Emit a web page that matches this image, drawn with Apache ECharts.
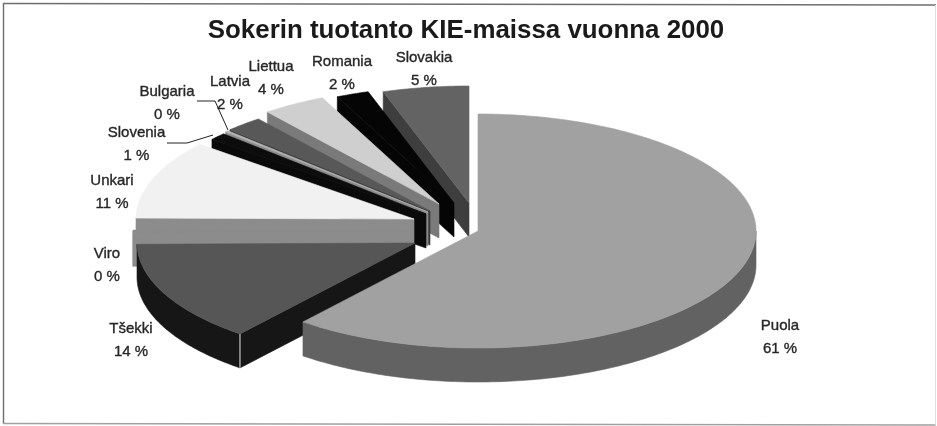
<!DOCTYPE html>
<html><head><meta charset="utf-8">
<style>html,body{margin:0;padding:0;background:#fff}#c{width:937px;height:426px}</style>
<script src="https://cdn.jsdelivr.net/npm/echarts@6/dist/echarts.min.js"></script>
</head><body><div id="c"></div>
<script>
// DATA (clockwise from 12 o'clock)
const categories = ['Puola','Tšekki','Viro','Unkari','Slovenia','Bulgaria','Latvia','Liettua','Romania','Slovakia'];
const values = [60.9,14,0.3,10.9,1,0.2,2.2,3.7,1.9,5];
const titleText = 'Sokerin tuotanto KIE-maissa vuonna 2000';

// STYLE / LAYOUT
const topColors  = ['#a1a1a1','#565656','#8c8c8c','#f1f1f1','#0c0c0c','#b5b5b5','#585858','#cfcfcf','#050505','#636363'];
const wallColors = ['#626262','#161616','#8c8c8c','#8c8c8c','#0a0a0a','#8a8a8a','#3a3a3a','#7a7a7a','#050505','#3e3e3e'];
const pieCenter = [450,225], radiusX = 278, radiusY = 117, depth = 34;
const explodeShift = [[28,6],[-35,18],[-39,6],[-36,-6],[-24,-11],[-22,-13],[-20,-14],[-11,-21],[4,-22],[19,-22]];
const labelCenters = [[780,337],[131,340],[107,265.5],[112,192.5],[136.5,144.5],[167,103.5],[230,93],[271,78],[342,73],[424,69.5]];
const leaderLines = {4:[[167,143],[187,143],[213,135]],5:[[197,101],[215,101],[228,130]]};

const total = values.reduce((s,v)=>s+v,0);
const starts = []; values.reduce((s,v,i)=>{starts[i]=s;return s+v/total*Math.PI*2;},0);

function rimPt(c,t,dy){return [c[0]+radiusX*Math.sin(t),c[1]-radiusY*Math.cos(t)+(dy||0)];}
function arcPts(c,t0,t1,dy){const n=Math.max(2,Math.ceil(Math.abs(t1-t0)/0.015));const p=[];for(let i=0;i<=n;i++)p.push(rimPt(c,t0+(t1-t0)*i/n,dy));return p;}
function poly(points,fill){return {type:'polygon',shape:{points},style:{fill,stroke:fill,lineWidth:0.6},silent:true};}

function renderSlice(params,api){
  const i=api.value(0), t0=starts[i], t1=t0+values[i]/total*Math.PI*2;
  const c=[pieCenter[0]+explodeShift[i][0],pieCenter[1]+explodeShift[i][1]];
  const kids=[], PI=Math.PI, TWO=2*PI;
  // cut faces that look toward the viewer
  if(t0>PI && t0<TWO){const r=rimPt(c,t0);kids.push(poly([c,r,[r[0],r[1]+depth],[c[0],c[1]+depth]],wallColors[i]));}
  if(t1>0 && t1<PI){const r=rimPt(c,t1);kids.push(poly([c,r,[r[0],r[1]+depth],[c[0],c[1]+depth]],wallColors[i]));}
  // outer rim facing the viewer
  const a=Math.max(t0,PI/2), b=Math.min(t1,PI*1.5);
  if(b>a){kids.push(poly(arcPts(c,a,b,0).concat(arcPts(c,b,a,depth)),wallColors[i]));}
  // highlight on Tšekki's corner edge
  if(i===1){const r=rimPt(c,t0);kids.push({type:'line',shape:{x1:r[0],y1:r[1],x2:r[0],y2:r[1]+depth},style:{stroke:'#e8e8e8',lineWidth:1},silent:true});}
  // top face
  kids.push(poly([c].concat(arcPts(c,t0,t1,0)),topColors[i]));
  return {type:'group',children:kids};
}
function renderLabel(params,api){
  const i=api.value(0), kids=[];
  if(leaderLines[i]) kids.push({type:'polyline',shape:{points:leaderLines[i]},style:{stroke:'#222',fill:null,lineWidth:1},silent:true});
  kids.push({type:'text',x:labelCenters[i][0],y:labelCenters[i][1],silent:true,style:{
    text:categories[i]+'\n'+Math.round(values[i]/total*100)+' %',
    fill:'#262626',stroke:'#262626',lineWidth:0.35,font:'15px "Liberation Sans"',lineHeight:23,align:'center',verticalAlign:'middle'}});
  return {type:'group',children:kids};
}
const drawOrder = categories.map((_,i)=>categories.length-1-i);
const chart = echarts.init(document.getElementById('c'),null,{renderer:'canvas'});
chart.setOption({
  animation:false, backgroundColor:'#fff',
  title:{text:titleText,left:461,top:13,textAlign:'center',textStyle:{fontFamily:'Liberation Sans',fontWeight:'bold',fontSize:25.9,color:'#1a1a1a'}},
  graphic:[
    {type:'line',shape:{x1:3,y1:3.5,x2:936,y2:5},style:{stroke:'#6e6e6e',lineWidth:1.6},z:0},
    {type:'line',shape:{x1:3.5,y1:3,x2:3.5,y2:424},style:{stroke:'#6e6e6e',lineWidth:1.4},z:0},
    {type:'line',shape:{x1:3,y1:423.5,x2:936,y2:425},style:{stroke:'#a0a0a0',lineWidth:1.4},z:0},
    {type:'line',shape:{x1:935.5,y1:5,x2:935.5,y2:425},style:{stroke:'#dddddd',lineWidth:1},z:0}
  ],
  series:[
    {type:'custom',coordinateSystem:'none',renderItem:renderSlice,data:drawOrder.map(i=>[i]),z:2,silent:true},
    {type:'custom',coordinateSystem:'none',renderItem:renderLabel,data:drawOrder.map(i=>[i]),z:3,silent:true}
  ]
});
</script></body></html>
